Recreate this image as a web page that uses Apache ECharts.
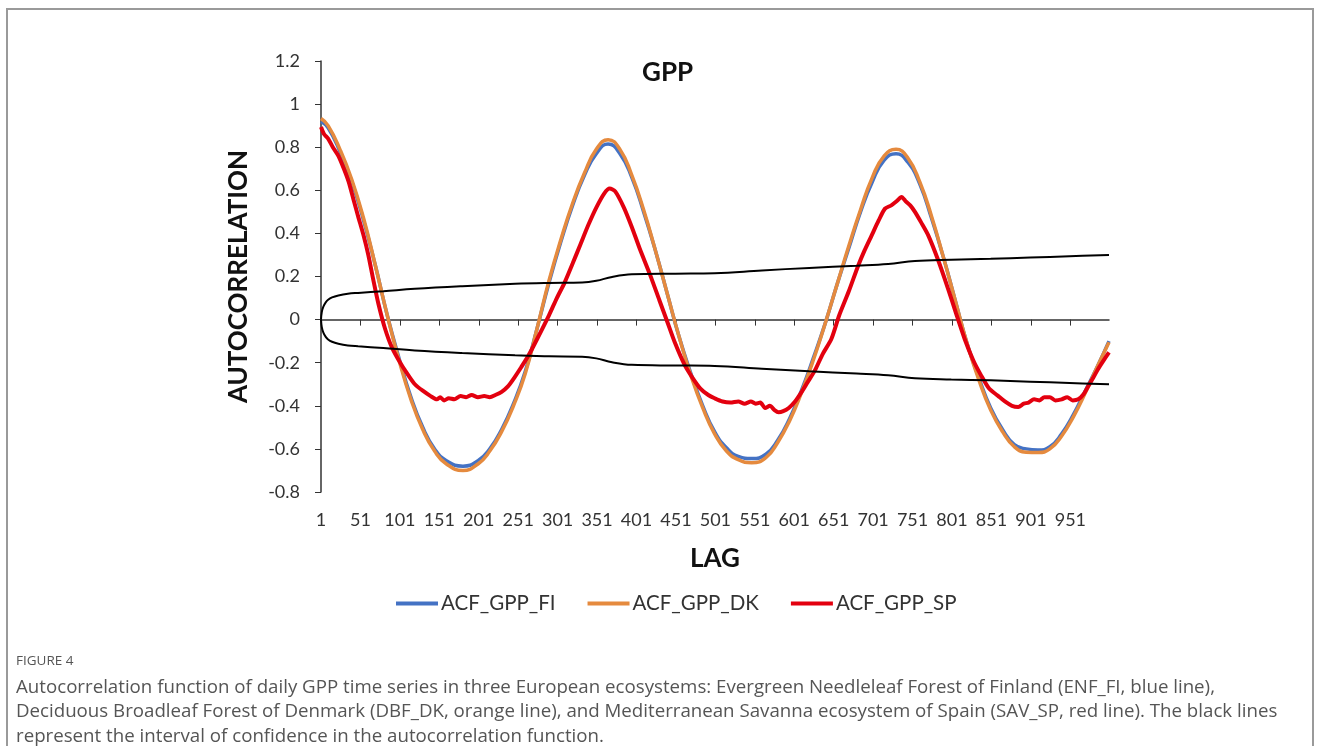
<!DOCTYPE html>
<html>
<head>
<meta charset="utf-8">
<title>GPP autocorrelation</title>
<script src="https://cdn.jsdelivr.net/npm/echarts@6/dist/echarts.min.js"></script>
<style>
  html, body { margin: 0; padding: 0; background: #fff; }
  #chart { width: 1320px; height: 746px; }
</style>
</head>
<body>
<div id="chart"></div>
<script>
// x轴: lag 1..1000
var lagCount = 1000;

// 蓝线 / 橙线 共用的 lag
var lagsCycle = [1, 10, 25, 40, 55, 70, 85, 100, 115, 130, 145, 160, 181, 200, 215, 230, 245, 260, 275, 290,
  305, 320, 335, 350, 365, 380, 395, 410, 425, 440, 455, 470, 485, 500, 515, 530, 547, 565, 580, 595,
  610, 625, 640, 655, 670, 685, 700, 715, 730, 745, 760, 775, 790, 805, 820, 835, 850, 865, 880, 895,
  910, 925, 940, 955, 970, 985, 1000];

var acfFI = [0.92, 0.89, 0.78, 0.64, 0.46, 0.25, 0.02, -0.18, -0.36, -0.50, -0.60, -0.655, -0.68, -0.655, -0.60, -0.51, -0.39, -0.24, -0.04, 0.17,
  0.36, 0.53, 0.67, 0.77, 0.815, 0.77, 0.66, 0.50, 0.32, 0.12, -0.08, -0.25, -0.40, -0.52, -0.595, -0.635, -0.645, -0.625, -0.56, -0.46,
  -0.33, -0.18, -0.02, 0.16, 0.33, 0.50, 0.64, 0.74, 0.77, 0.73, 0.63, 0.47, 0.29, 0.09, -0.11, -0.27, -0.41, -0.51, -0.58, -0.60,
  -0.605, -0.59, -0.53, -0.44, -0.33, -0.22, -0.10];

var acfDK = [0.933, 0.90, 0.79, 0.65, 0.47, 0.25, 0.02, -0.19, -0.37, -0.51, -0.61, -0.67, -0.70, -0.67, -0.61, -0.52, -0.40, -0.25, -0.04, 0.18,
  0.37, 0.54, 0.68, 0.79, 0.835, 0.79, 0.67, 0.51, 0.32, 0.12, -0.08, -0.26, -0.41, -0.53, -0.61, -0.65, -0.664, -0.64, -0.57, -0.47,
  -0.34, -0.19, -0.02, 0.16, 0.34, 0.51, 0.66, 0.76, 0.79, 0.75, 0.64, 0.48, 0.29, 0.09, -0.11, -0.28, -0.42, -0.52, -0.59, -0.615,
  -0.617, -0.60, -0.54, -0.45, -0.34, -0.22, -0.105];

// 红线 (SP) 有噪声, 单独的 lag
var lagsSP = [1, 5, 10, 16, 23, 30, 36, 42, 48, 55, 61, 67, 74, 82, 91, 103, 112, 120, 130, 140,
  148, 152, 157, 163, 170, 178, 185, 192, 200, 208, 215, 222, 230, 238, 246, 255, 264, 275, 290, 300,
  310, 320, 330, 340, 350, 360, 367, 374, 385, 395, 405, 418, 430, 440, 450, 462, 472, 482, 492, 500,
  510, 520, 530, 538, 546, 552, 558, 564, 570, 576, 581, 587, 594, 602, 610, 618, 627, 637, 648, 658,
  670, 682, 690, 699, 708, 716, 724, 731, 737, 742, 748, 754, 762, 771, 783, 796, 806, 817, 828, 838,
  848, 859, 868, 877, 885, 892, 898, 905, 912, 918, 925, 932, 940, 947, 954, 961, 968, 974, 980, 986,
  993, 1000];

var acfSP = [0.894, 0.86, 0.84, 0.80, 0.76, 0.70, 0.64, 0.56, 0.48, 0.39, 0.30, 0.19, 0.07, -0.04, -0.13, -0.21, -0.26, -0.30, -0.33, -0.355,
  -0.37, -0.36, -0.375, -0.365, -0.37, -0.355, -0.36, -0.35, -0.36, -0.355, -0.36, -0.35, -0.335, -0.31, -0.27, -0.22, -0.167, -0.09, 0.02, 0.10,
  0.173, 0.26, 0.35, 0.44, 0.52, 0.585, 0.608, 0.595, 0.52, 0.43, 0.33, 0.21, 0.09, -0.01, -0.11, -0.21, -0.27, -0.32, -0.35, -0.365,
  -0.38, -0.385, -0.38, -0.39, -0.38, -0.39, -0.385, -0.41, -0.40, -0.42, -0.43, -0.425, -0.41, -0.38, -0.338, -0.29, -0.237, -0.16, -0.09, 0.02,
  0.13, 0.25, 0.32, 0.39, 0.46, 0.515, 0.53, 0.55, 0.569, 0.55, 0.53, 0.50, 0.45, 0.39, 0.28, 0.143, 0.03, -0.09, -0.19, -0.26,
  -0.32, -0.353, -0.38, -0.40, -0.405, -0.39, -0.385, -0.37, -0.375, -0.36, -0.36, -0.375, -0.37, -0.36, -0.375, -0.37, -0.345, -0.307, -0.27, -0.23,
  -0.19, -0.152];

// 置信区间 (黑线)
var lagsBand = [1, 2, 4, 7, 10, 15, 23, 35, 48, 80, 120, 180, 247, 290, 332, 350, 370, 395, 450, 500,
  560, 620, 680, 720, 754, 800, 850, 900, 950, 1000];
var bandUpper = [0, 0.035, 0.06, 0.08, 0.092, 0.103, 0.112, 0.12, 0.124, 0.132, 0.143, 0.155, 0.166, 0.17, 0.172, 0.18, 0.198, 0.21, 0.213, 0.215,
  0.228, 0.24, 0.25, 0.258, 0.272, 0.278, 0.282, 0.288, 0.294, 0.30];
var bandLower = [0, -0.035, -0.06, -0.08, -0.092, -0.103, -0.112, -0.12, -0.124, -0.132, -0.143, -0.155, -0.166, -0.17, -0.172, -0.18, -0.198, -0.21, -0.213, -0.215,
  -0.228, -0.24, -0.25, -0.258, -0.272, -0.278, -0.282, -0.288, -0.294, -0.30];

var seriesNames = ["ACF_GPP_FI", "ACF_GPP_DK", "ACF_GPP_SP"];

var captionLines = [
  "Autocorrelation function of daily GPP time series in three European ecosystems: Evergreen Needleleaf Forest of Finland (ENF_FI, blue line),",
  "Deciduous Broadleaf Forest of Denmark (DBF_DK, orange line), and Mediterranean Savanna ecosystem of Spain (SAV_SP, red line). The black lines",
  "represent the interval of confidence in the autocorrelation function."
];

var lagLabels = [];
for (var i = 1; i <= lagCount; i++) lagLabels.push(String(i));

function pairs(lags, vals) {
  return lags.map(function (l, k) { return [String(l), vals[k]]; });
}

var chart = echarts.init(document.getElementById("chart"));

var font = "Lato, 'Open Sans', sans-serif";

var graphics = [
  {
    type: "rect",
    silent: true,
    shape: { x: 7, y: 9, width: 1306, height: 800 },
    style: { fill: "none", stroke: "#9a9a9a", lineWidth: 2 }
  },
  {
    type: "text",
    left: 16,
    top: 654,
    style: { text: "FIGURE 4", fill: "#555", font: "13.5px 'Open Sans', sans-serif" }
  }
];
captionLines.forEach(function (t, k) {
  graphics.push({
    type: "text",
    left: 16,
    top: 678 + k * 24.5,
    style: { text: t, fill: "#555", font: "18.7px 'Open Sans', sans-serif" }
  });
});

var option = {
  animation: false,
  backgroundColor: "#fff",
  title: {
    text: "GPP",
    left: 642,
    top: 60,
    padding: 0,
    textStyle: { fontFamily: font, fontWeight: "bold", fontSize: 26, color: "#111" }
  },
  legend: {
    data: seriesNames,
    left: 396,
    top: 593,
    padding: 0,
    icon: "rect",
    itemWidth: 42,
    itemHeight: 4,
    itemGap: 32,
    textStyle: { fontFamily: font, fontSize: 20.5, color: "#333", padding: [0, 0, 0, -2] }
  },
  grid: { left: 321, right: 211, top: 61, bottom: 254 },
  xAxis: {
    type: "category",
    data: lagLabels,
    boundaryGap: false,
    name: "LAG",
    nameLocation: "middle",
    nameGap: 54,
    nameTextStyle: { fontFamily: font, fontWeight: "bold", fontSize: 26, color: "#111" },
    axisLine: { lineStyle: { color: "#333", width: 1.5 } },
    axisTick: { interval: 49, length: 6, lineStyle: { color: "#333" } },
    axisLabel: { interval: 49, margin: 19, fontFamily: font, fontSize: 18, color: "#333" },
    splitLine: { show: false }
  },
  yAxis: {
    type: "value",
    min: -0.8,
    max: 1.2,
    interval: 0.2,
    name: "AUTOCORRELATION",
    nameLocation: "middle",
    nameGap: 69,
    nameTextStyle: { fontFamily: font, fontWeight: "bold", fontSize: 26, color: "#111" },
    axisLine: { show: true, lineStyle: { color: "#333", width: 1.5 } },
    axisTick: { show: true, length: 6, lineStyle: { color: "#333" } },
    axisLabel: { margin: 21, fontFamily: font, fontSize: 18, color: "#333" },
    splitLine: { show: false }
  },
  series: [
    {
      name: seriesNames[0],
      type: "line",
      data: pairs(lagsCycle, acfFI),
      smooth: 0.5,
      showSymbol: false,
      color: "#4472c4",
      lineStyle: { width: 3.5, color: "#4472c4" }
    },
    {
      name: seriesNames[1],
      type: "line",
      data: pairs(lagsCycle, acfDK),
      smooth: 0.5,
      showSymbol: false,
      color: "#e58a3e",
      lineStyle: { width: 3.5, color: "#e58a3e" }
    },
    {
      name: seriesNames[2],
      type: "line",
      data: pairs(lagsSP, acfSP),
      smooth: 0.25,
      showSymbol: false,
      color: "#e3000f",
      lineStyle: { width: 4, color: "#e3000f" }
    },
    {
      name: "upper",
      type: "line",
      data: pairs(lagsBand, bandUpper),
      smooth: 0.4,
      showSymbol: false,
      color: "#000",
      lineStyle: { width: 2, color: "#000" }
    },
    {
      name: "lower",
      type: "line",
      data: pairs(lagsBand, bandLower),
      smooth: 0.4,
      showSymbol: false,
      color: "#000",
      lineStyle: { width: 2, color: "#000" }
    }
  ],
  graphic: graphics
};

chart.setOption(option);
</script>
</body>
</html>
